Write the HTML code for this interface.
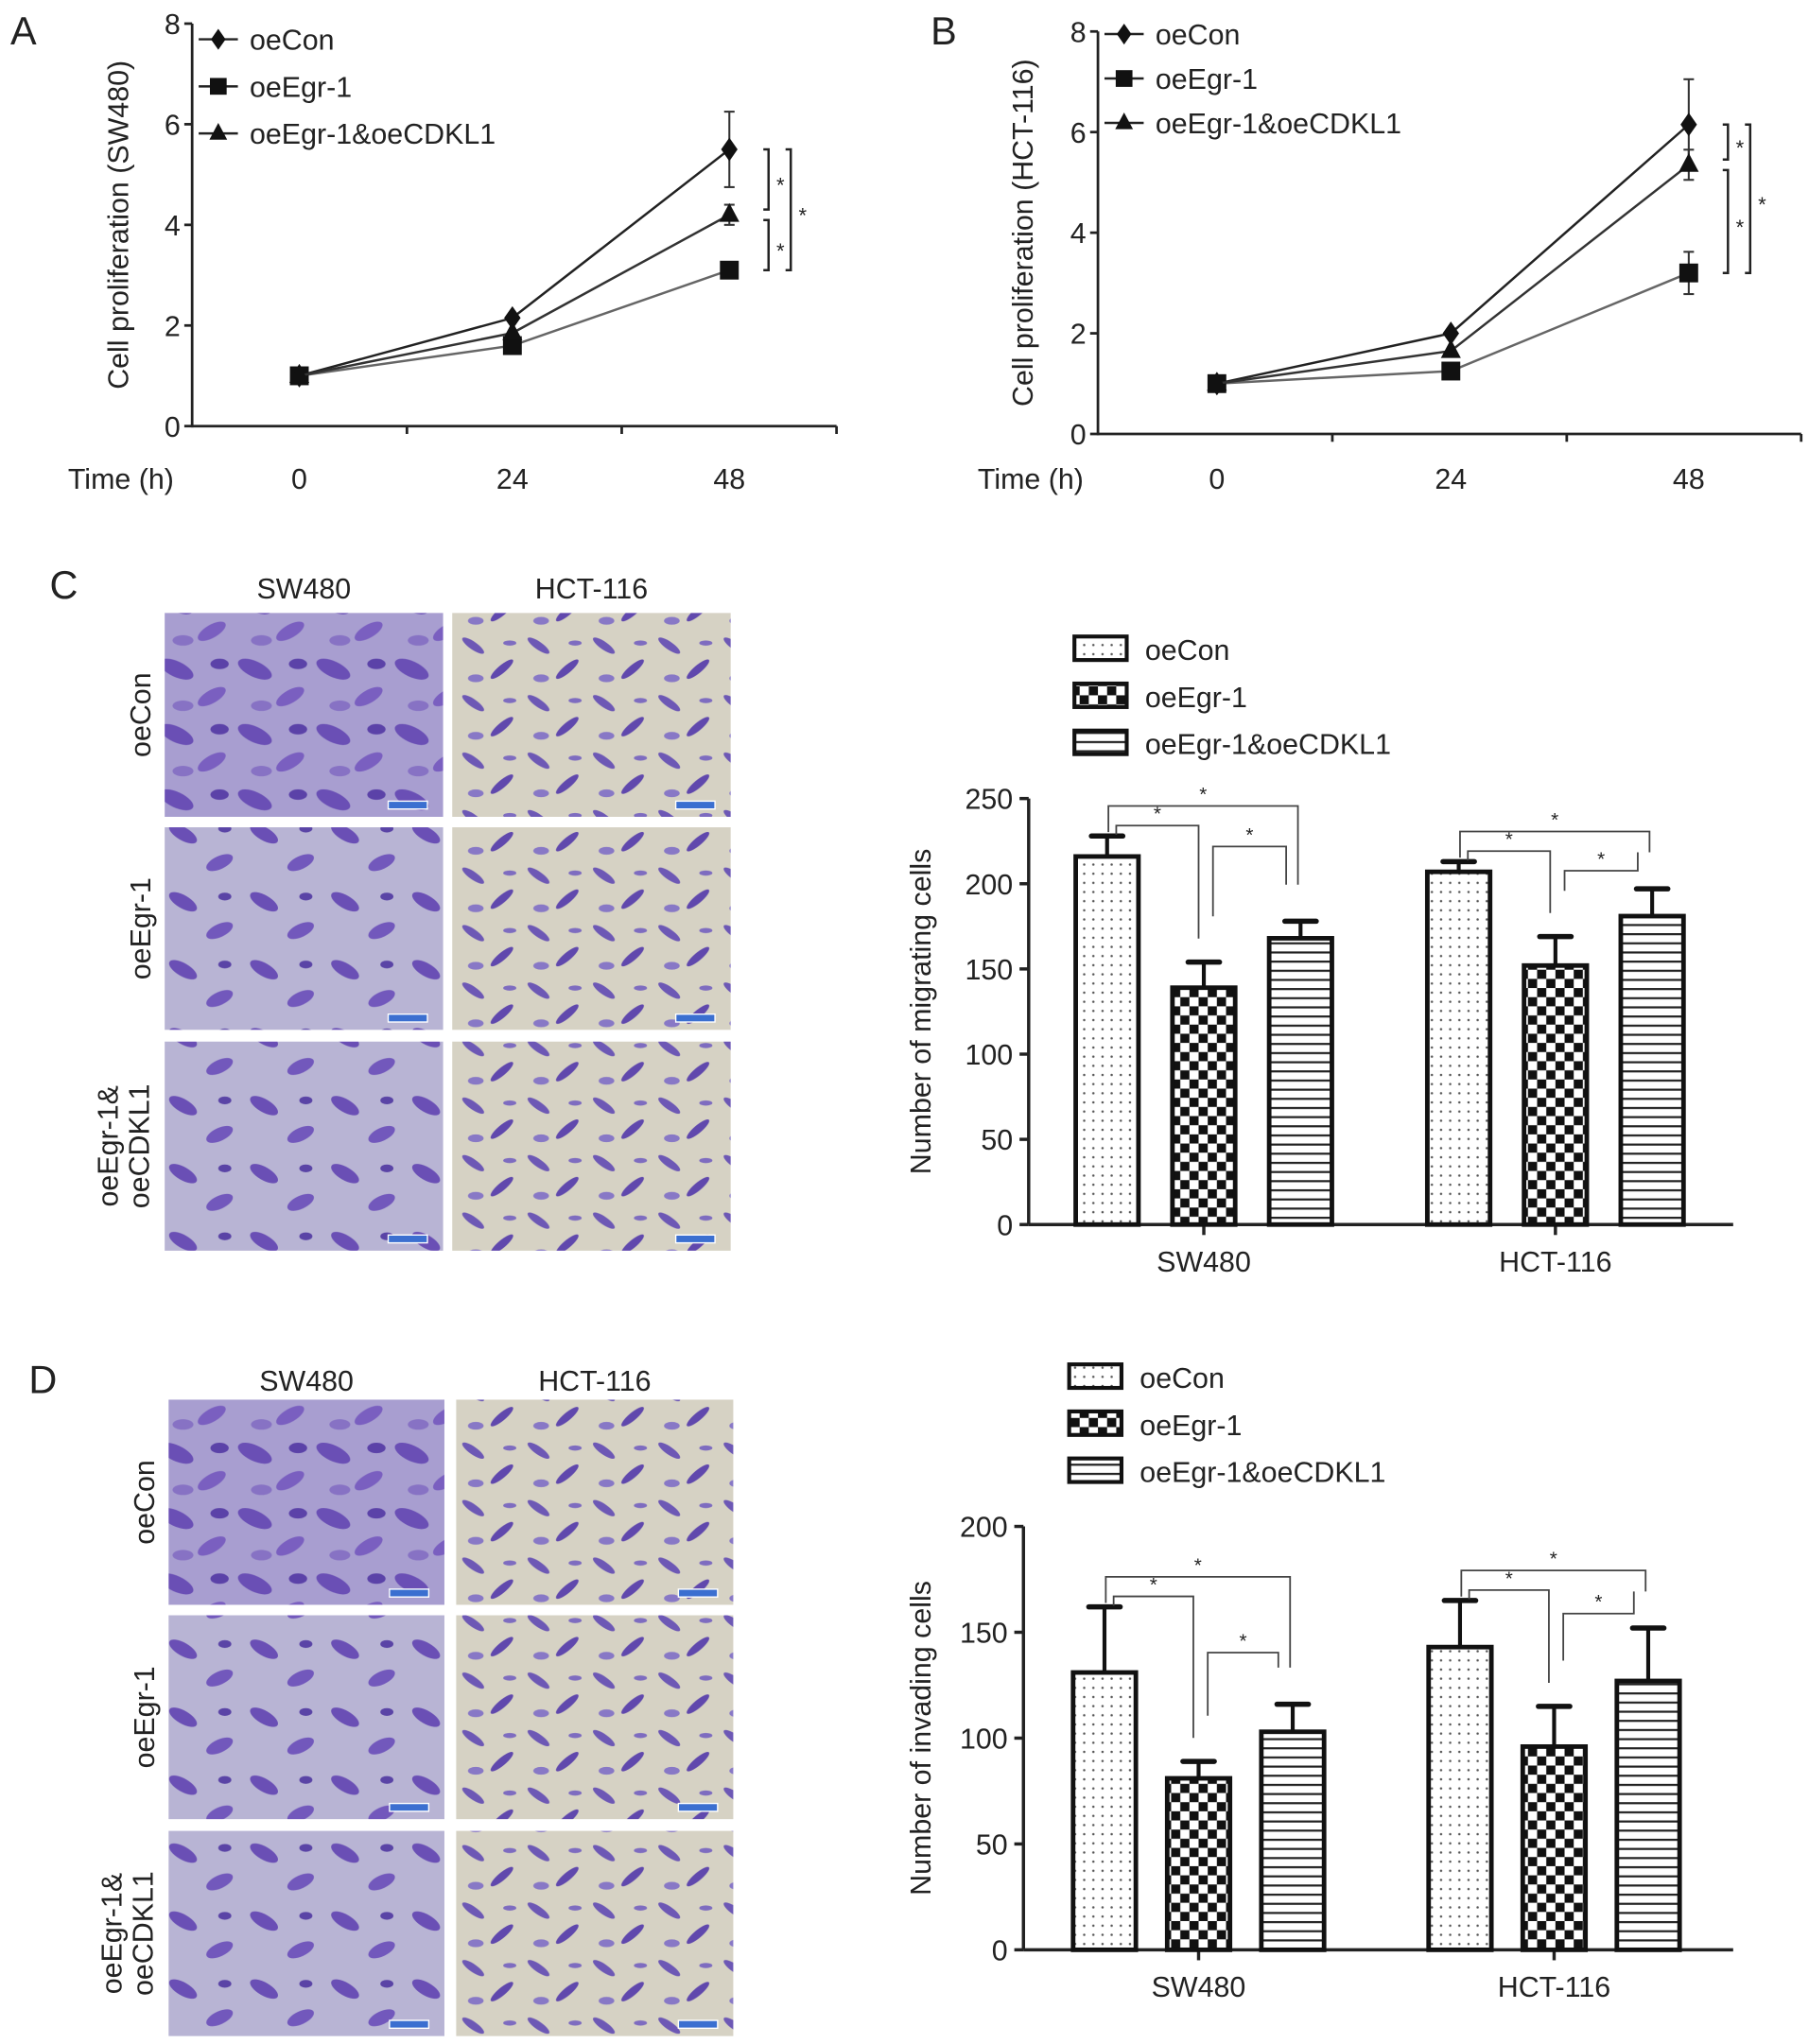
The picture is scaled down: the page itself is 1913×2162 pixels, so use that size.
<!DOCTYPE html>
<html><head><meta charset="utf-8"><style>
html,body{margin:0;padding:0;background:#fff}
svg{display:block}
text{font-family:"Liberation Sans",Arial,sans-serif;fill:#222}
</style></head><body>
<svg id="fig" width="1913" height="2162" viewBox="0 0 1384 1564" xmlns="http://www.w3.org/2000/svg">
<defs>
<pattern id="pDots" width="7" height="7" patternUnits="userSpaceOnUse"><rect width="7" height="7" fill="#fff"/><circle cx="3.5" cy="3.5" r="0.9" fill="#555"/></pattern>
<pattern id="pCheck" width="14" height="14" patternUnits="userSpaceOnUse"><rect width="14" height="14" fill="#fff"/><rect width="7" height="7" fill="#111"/><rect x="7" y="7" width="7" height="7" fill="#111"/></pattern>
<pattern id="pStripe" width="7" height="7" patternUnits="userSpaceOnUse"><rect width="7" height="7" fill="#fff"/><rect y="0" width="7" height="1.6" fill="#222"/></pattern>
<pattern id="pCellA" width="60" height="50" patternUnits="userSpaceOnUse"><rect width="60" height="50" fill="#a89ed0"/><ellipse cx="15" cy="12" rx="14" ry="6" fill="#6a4fb5" transform="rotate(25 15 12)"/><ellipse cx="42" cy="33" rx="12" ry="5" fill="#7a5fc0" transform="rotate(-30 42 33)"/><ellipse cx="48" cy="8" rx="7" ry="4" fill="#5b42a8"/><ellipse cx="20" cy="40" rx="8" ry="4" fill="#8772c4"/></pattern>
<pattern id="pCellB" width="50" height="44" patternUnits="userSpaceOnUse"><rect width="50" height="44" fill="#d6d2c4"/><ellipse cx="12" cy="10" rx="10" ry="3" fill="#6d58b5" transform="rotate(35 12 10)"/><ellipse cx="34" cy="28" rx="11" ry="3" fill="#6048ad" transform="rotate(-40 34 28)"/><ellipse cx="40" cy="8" rx="5" ry="2" fill="#7e6cc0"/><ellipse cx="14" cy="35" rx="6" ry="3" fill="#8878c6"/></pattern>
<pattern id="pCellC" width="62" height="52" patternUnits="userSpaceOnUse"><rect width="62" height="52" fill="#b8b4d4"/><ellipse cx="16" cy="14" rx="12" ry="5" fill="#6a4fb5" transform="rotate(30 16 14)"/><ellipse cx="44" cy="36" rx="11" ry="5" fill="#7258bc" transform="rotate(-25 44 36)"/><ellipse cx="48" cy="10" rx="5" ry="3" fill="#5a44a6"/></pattern>
</defs>
<g id="root"></g>
</svg>
<script>
// ---------- Data ----------
const timeLabels = ["0","24","48"];
const yTicksLine = [0,2,4,6,8];
const seriesNames = ["oeCon","oeEgr-1","oeEgr-1&oeCDKL1"];
const A_con = [1, 2.15, 5.5];
const A_egr = [1, 1.6, 3.1];
const A_cdkl = [1, 1.85, 4.2];
const A_conErr = [0, 0.1, 0.75];
const A_egrErr = [0, 0.05, 0.1];
const A_cdklErr = [0, 0.05, 0.2];
const B_con = [1, 2.0, 6.15];
const B_egr = [1, 1.25, 3.2];
const B_cdkl = [1, 1.65, 5.35];
const B_conErr = [0, 0.05, 0.9];
const B_egrErr = [0, 0.05, 0.42];
const B_cdklErr = [0, 0.05, 0.3];
const groups = ["SW480","HCT-116"];
const C_con = [216, 207];
const C_egr = [139, 152];
const C_cdkl = [168, 181];
const C_conErr = [12, 6];
const C_egrErr = [15, 17];
const C_cdklErr = [10, 16];
const C_ticks = [0,50,100,150,200,250];
const D_con = [131, 143];
const D_egr = [81, 96];
const D_cdkl = [103, 127];
const D_conErr = [31, 22];
const D_egrErr = [8, 19];
const D_cdklErr = [13, 25];
const D_ticks = [0,50,100,150,200];

const NS="http://www.w3.org/2000/svg";
const root=document.getElementById('root');
function mk(tag,attrs,parent,txt){const e=document.createElementNS(NS,tag);for(const k in attrs)e.setAttribute(k,attrs[k]);if(txt!==undefined)e.textContent=txt;(parent||root).appendChild(e);return e;}

function marker(g,type,x,y,s){
  if(type===0) return mk('polygon',{points:`${x},${y-s} ${x+s*0.7},${y} ${x},${y+s} ${x-s*0.7},${y}`,fill:'#111'},g);
  if(type===1) return mk('rect',{x:x-s*0.8,y:y-s*0.8,width:s*1.6,height:s*1.6,fill:'#111'},g);
  return mk('polygon',{points:`${x},${y-s} ${x+s*0.85},${y+s*0.6} ${x-s*0.85},${y+s*0.6}`,fill:'#111'},g);
}

function linePanel(o){
  const g=mk('g',{});
  
  
  const ys=v=>o.y0-(v/8)*(o.y0-o.y8);
  const xs=i=>o.xp[i];
  mk('text',{x:o.lx,y:o.ly,'font-size':30},g,o.letter);
  mk('line',{x1:o.ax,y1:o.y8,x2:o.ax,y2:o.y0+1,stroke:'#222','stroke-width':2},g);
  mk('line',{x1:o.ax,y1:o.y0,x2:o.xEnd,y2:o.y0,stroke:'#222','stroke-width':2},g);
  yTicksLine.forEach(t=>{const y=ys(t);mk('line',{x1:o.ax-6,y1:y,x2:o.ax,y2:y,stroke:'#222','stroke-width':2},g);
    const tx=mk('text',{x:o.ax-9,y:y+8,'font-size':22,'text-anchor':'end'},g,String(t));});
  const step=(o.xEnd-o.ax)/3;
  for(let i=1;i<=3;i++){mk('line',{x1:o.ax+step*i,y1:o.y0,x2:o.ax+step*i,y2:o.y0+6,stroke:'#222','stroke-width':2},g);}
  timeLabels.forEach((t,i)=>{const tx=mk('text',{x:xs(i),y:374,'font-size':22,'text-anchor':'middle'},g,t);});
  mk('text',{x:o.tx,y:374,'font-size':22},g,'Time (h)');
  const yt=mk('text',{x:0,y:0,'font-size':22,'text-anchor':'middle',transform:`translate(${o.ytx},${(o.y0+o.y8)/2}) rotate(-90)`},g,o.ytitle);
  
  const ser=[[o.con,o.conErr,0,'#222'],[o.egr,o.egrErr,1,'#666'],[o.cdkl,o.cdklErr,2,'#333']];
  ser.forEach(([vals,err,type,col],si)=>{
    const pts=vals.map((v,i)=>`${xs(i)},${ys(v)}`).join(' ');
    const pl=mk('polyline',{points:pts,fill:'none',stroke:col,'stroke-width':1.8},g);
    
    vals.forEach((v,i)=>{
      if(err[i]>0.15){mk('line',{x1:xs(i),y1:ys(v+err[i]),x2:xs(i),y2:ys(v-err[i]),stroke:'#333','stroke-width':1.5},g);
        mk('line',{x1:xs(i)-4,y1:ys(v+err[i]),x2:xs(i)+4,y2:ys(v+err[i]),stroke:'#333','stroke-width':1.5},g);
        mk('line',{x1:xs(i)-4,y1:ys(v-err[i]),x2:xs(i)+4,y2:ys(v-err[i]),stroke:'#333','stroke-width':1.5},g);}
      const m=marker(g,type,xs(i),ys(v),9);
      
    });
  });
  seriesNames.forEach((n,i)=>{const y=o.legY+i*o.legDy;
    const le=mk('g',{},g);
    mk('line',{x1:o.ax+5,y1:y,x2:o.ax+35,y2:y,stroke:'#222','stroke-width':1.8},le);
    marker(le,i,o.ax+20,y,8);
    mk('text',{x:o.ax+44,y:y+8,'font-size':22},le,n);});
  const x48=xs(2);
  const br=(xb,ya,yb)=>{mk('path',{d:`M${xb-4},${ya} H${xb} V${yb} H${xb-4}`,fill:'none',stroke:'#222','stroke-width':1.8},g);
    mk('text',{x:xb+6,y:(ya+yb)/2+10,'font-size':16},g,'*');};
  br(x48+30,ys(o.con[2]),ys(o.cdkl[2])-4);
  br(x48+30,ys(o.cdkl[2])+4,ys(o.egr[2]));
  br(x48+47,ys(o.con[2]),ys(o.egr[2]));
}

linePanel({name:'panel-a-sw480-proliferation',letter:'A',lx:8,ly:34,ax:147,y0:326,y8:18,xEnd:640,xp:[229,392,558],tx:52,ytx:98,
  ytitle:'Cell proliferation (SW480)',con:A_con,egr:A_egr,cdkl:A_cdkl,conErr:A_conErr,egrErr:A_egrErr,cdklErr:A_cdklErr,legY:30,legDy:36});
linePanel({name:'panel-b-hct116-proliferation',letter:'B',lx:712,ly:34,ax:840,y0:332,y8:24,xEnd:1378,xp:[931,1110,1292],tx:748,ytx:790,
  ytitle:'Cell proliferation (HCT-116)',con:B_con,egr:B_egr,cdkl:B_cdkl,conErr:B_conErr,egrErr:B_egrErr,cdklErr:B_cdklErr,legY:26,legDy:34});

function imgPanel(o){
  const g=mk('g',{});
  
  
  mk('text',{x:o.lx,y:o.ly,'font-size':30},g,o.letter);
  mk('text',{x:(o.cols[0][0]+o.cols[0][1])/2,y:o.hy,'font-size':22,'text-anchor':'middle'},g,'SW480');
  mk('text',{x:(o.cols[1][0]+o.cols[1][1])/2,y:o.hy,'font-size':22,'text-anchor':'middle'},g,'HCT-116');
  const rl=[['oeCon'],['oeEgr-1'],['oeEgr-1&','oeCDKL1']];
  o.rows.forEach((r,ri)=>{
    o.cols.forEach((c,ci)=>{
      const fill=ci===0?(ri===0?'url(#pCellA)':'url(#pCellC)'):'url(#pCellB)';
      const im=mk('rect',{x:c[0],y:r[0],width:c[1]-c[0],height:r[1]-r[0],fill:fill},g);
      
      mk('rect',{x:c[1]-42,y:r[1]-12,width:30,height:6,fill:'#3b6fd0',stroke:'#fff','stroke-width':1},g);
    });
    const cy=(r[0]+r[1])/2;
    const lines=rl[ri];
    const t=mk('text',{'font-size':22,'text-anchor':'middle',transform:`translate(${o.rlx},${cy}) rotate(-90)`},g);
    
    lines.forEach((s,li)=>{mk('tspan',{x:0,dy:li===0?(lines.length>1?-25:0):24},t,s);});
  });
}
imgPanel({name:'panel-c-migration-images',letter:'C',lx:38,ly:458,hy:458,cols:[[126,339],[346,559]],rows:[[469,625],[633,788],[797,957]],rlx:115});
imgPanel({name:'panel-d-invasion-images',letter:'D',lx:22,ly:1066,hy:1064,cols:[[129,340],[349,561]],rows:[[1071,1228],[1236,1392],[1401,1558]],rlx:118});

function barPanel(o){
  const g=mk('g',{});
  
  
  const ys=v=>o.y0-(v/o.ymax)*(o.y0-o.ytop);
  const fills=['url(#pDots)','url(#pCheck)','url(#pStripe)'];
  seriesNames.forEach((n,i)=>{const y=o.legY+i*o.legDy;
    const le=mk('g',{},g);
    mk('rect',{x:o.legX,y:y-10,width:40,height:18,fill:fills[i],stroke:'#111','stroke-width':3},le);
    mk('text',{x:o.legX+54,y:y+8,'font-size':22},le,n);});
  mk('line',{x1:o.ax,y1:o.ytop,x2:o.ax,y2:o.y0,stroke:'#222','stroke-width':2.5},g);
  mk('line',{x1:o.ax,y1:o.y0,x2:o.xEnd,y2:o.y0,stroke:'#222','stroke-width':2.5},g);
  o.ticks.forEach(t=>{const y=ys(t);mk('line',{x1:o.ax-7,y1:y,x2:o.ax,y2:y,stroke:'#222','stroke-width':2.5},g);
    mk('text',{x:o.ax-12,y:y+8,'font-size':22,'text-anchor':'end'},g,String(t));});
  mk('text',{'font-size':22,'text-anchor':'middle',transform:`translate(${o.ytx},${(o.y0+o.ytop)/2}) rotate(-90)`},g,o.ytitle);
  const series=[[o.con,o.conErr],[o.egr,o.egrErr],[o.cdkl,o.cdklErr]];
  const bw=48;
  groups.forEach((gn,gi)=>{
    const gc=o.gx[gi];
    mk('line',{x1:gc,y1:o.y0,x2:gc,y2:o.y0+8,stroke:'#222','stroke-width':2.5},g);
    mk('text',{x:gc,y:o.y0+36,'font-size':22,'text-anchor':'middle'},g,gn);
    const tops=[];
    series.forEach(([vals,errs],si)=>{
      const cx=gc+(si-1)*o.gap;const v=vals[gi],e=errs[gi];
      mk('line',{x1:cx,y1:ys(v),x2:cx,y2:ys(v+e),stroke:'#111','stroke-width':3},g);
      mk('line',{x1:cx-12,y1:ys(v+e),x2:cx+12,y2:ys(v+e),stroke:'#111','stroke-width':4,'stroke-linecap':'round'},g);
      const b=mk('rect',{x:cx-bw/2,y:ys(v),width:bw,height:o.y0-ys(v),fill:fills[si],stroke:'#111','stroke-width':3.5},g);
      
      tops.push([cx,ys(v+e)]);
    });
    const l1=tops[0][1]-23, l2=tops[0][1]-8, l3=l2+o.l3off[gi];
    const sig=(xa,xb,y,da,db)=>{mk('path',{d:`M${xa},${da} V${y} H${xb} V${db}`,fill:'none',stroke:'#444','stroke-width':1.3},g);
      mk('text',{x:(xa+xb)/2,y:y-4,'font-size':15,'text-anchor':'middle'},g,'*');};
    sig(tops[0][0]+1,tops[2][0]-2,l1,tops[0][1]-3,tops[2][1]-28);
    sig(tops[0][0]+7,tops[1][0]-4,l2,tops[0][1]-1,tops[1][1]-18);
    sig(tops[1][0]+7,tops[2][0]-11,l3,tops[1][1]-35,tops[2][1]-28);
  });
}
barPanel({name:'panel-c-migration-chart',ax:787,y0:937,ytop:611,ymax:250,xEnd:1326,gx:[921,1190],gap:74,ticks:C_ticks,l3off:[16,15],
  ytitle:'Number of migrating cells',ytx:712,legX:822,legY:497,legDy:36,con:C_con,egr:C_egr,cdkl:C_cdkl,conErr:C_conErr,egrErr:C_egrErr,cdklErr:C_cdklErr});
barPanel({name:'panel-d-invasion-chart',ax:783,y0:1492,ytop:1168,ymax:200,xEnd:1326,gx:[917,1189],gap:72,ticks:D_ticks,l3off:[43,18],
  ytitle:'Number of invading cells',ytx:712,legX:818,legY:1054,legDy:36,con:D_con,egr:D_egr,cdkl:D_cdkl,conErr:D_conErr,egrErr:D_egrErr,cdklErr:D_cdklErr});
</script>
</body></html>
